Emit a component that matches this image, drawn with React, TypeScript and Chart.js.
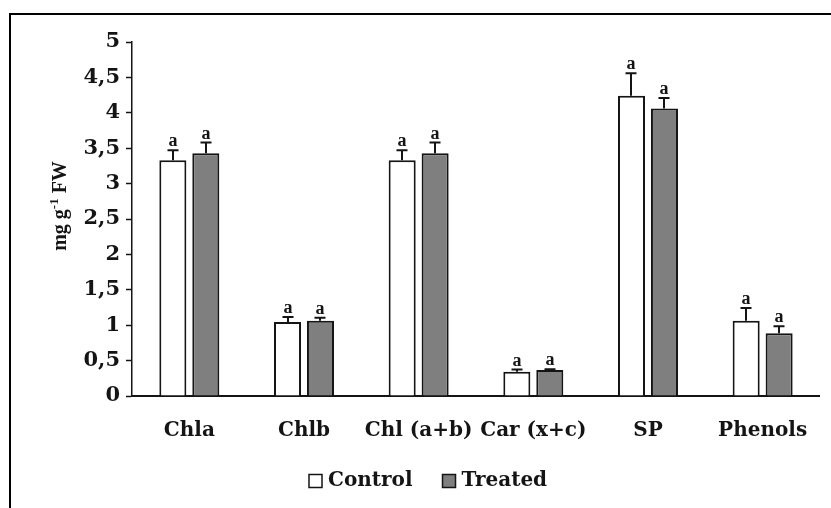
import React, { useEffect, useRef } from "react";
import { Chart, registerables } from "chart.js";

Chart.register(...registerables);

const categories = ["Chla", "Chlb", "Chl (a+b)", "Car (x+c)", "SP", "Phenols"];
const controlValues = [3.33, 1.045, 3.33, 0.343, 4.24, 1.064];
const controlErrors = [0.14, 0.07, 0.14, 0.03, 0.32, 0.18];
const treatedValues = [3.43, 1.064, 3.43, 0.367, 4.06, 0.886];
const treatedErrors = [0.15, 0.04, 0.15, 0.012, 0.15, 0.1];
const controlLetters = ["a", "a", "a", "a", "a", "a"];
const treatedLetters = ["a", "a", "a", "a", "a", "a"];
const yTickLabels = ["0", "0,5", "1", "1,5", "2", "2,5", "3", "3,5", "4", "4,5", "5"];
const seriesNames = ["Control", "Treated"];
const seriesFills = ["#ffffff", "#7f7f7f"];

const INK = "#141414";
const SERIF_BOLD = "bold 20px 'DejaVu Serif'";

const decorPlugin = {
  id: "decor",
  beforeDraw(chart: any) {
    const ctx = chart.ctx;
    ctx.save();
    ctx.fillStyle = "#ffffff";
    ctx.fillRect(0, 0, chart.width, chart.height);
    ctx.strokeStyle = "#000";
    ctx.lineWidth = 2;
    ctx.beginPath();
    ctx.moveTo(10, chart.height);
    ctx.lineTo(10, 14);
    ctx.lineTo(chart.width, 14);
    ctx.stroke();
    ctx.restore();
  },
  afterDatasetsDraw(chart: any) {
    const ctx = chart.ctx;
    const yScale = chart.scales.y;
    const errs = [controlErrors, treatedErrors];
    const letters = [controlLetters, treatedLetters];
    ctx.save();
    ctx.strokeStyle = INK;
    ctx.fillStyle = INK;
    ctx.lineWidth = 2;
    chart.data.datasets.forEach((ds: any, i: number) => {
      const meta = chart.getDatasetMeta(i);
      meta.data.forEach((el: any, j: number) => {
        const v = ds.data[j];
        const top = yScale.getPixelForValue(v + errs[i][j]);
        const x = Math.round(el.x);
        ctx.beginPath();
        ctx.moveTo(x, el.y);
        ctx.lineTo(x, top);
        ctx.moveTo(x - 5.5, top);
        ctx.lineTo(x + 5.5, top);
        ctx.stroke();
        ctx.font = "bold 18px 'Liberation Serif'";
        ctx.textAlign = "center";
        ctx.textBaseline = "alphabetic";
        ctx.fillText(letters[i][j], x, top - 4);
      });
    });
    ctx.restore();
  },
  afterDraw(chart: any) {
    const ctx = chart.ctx;
    ctx.save();
    // y axis title with superscript
    const big = "bold 20px 'Liberation Serif'";
    const small = "bold 13px 'Liberation Serif'";
    const parts = [
      { t: "mg g", f: big, dy: 0 },
      { t: "-1", f: small, dy: -8 },
      { t: " FW", f: big, dy: 0 },
    ];
    let total = 0;
    parts.forEach((p) => {
      ctx.font = p.f;
      total += ctx.measureText(p.t).width;
    });
    const cy = 206;
    const cx = 66;
    ctx.translate(cx, cy);
    ctx.rotate(-Math.PI / 2);
    ctx.fillStyle = INK;
    ctx.textBaseline = "alphabetic";
    ctx.textAlign = "left";
    let x = -total / 2;
    parts.forEach((p) => {
      ctx.font = p.f;
      ctx.fillText(p.t, x, p.dy);
      x += ctx.measureText(p.t).width;
    });
    ctx.restore();

    // legend
    ctx.save();
    ctx.font = SERIF_BOLD;
    ctx.textBaseline = "middle";
    ctx.textAlign = "left";
    let lx = 309;
    const ly = 481;
    chart.data.datasets.forEach((ds: any) => {
      ctx.fillStyle = ds.backgroundColor;
      ctx.fillRect(lx, ly - 6.5, 13, 13);
      ctx.strokeStyle = INK;
      ctx.lineWidth = 1.5;
      ctx.strokeRect(lx, ly - 6.5, 13, 13);
      ctx.fillStyle = INK;
      ctx.fillText(ds.label, lx + 19, ly);
      lx += 19 + ctx.measureText(ds.label).width + 30;
    });
    ctx.restore();
  },
};

export default function App() {
  const ref = useRef<HTMLCanvasElement | null>(null);
  useEffect(() => {
    if (!ref.current) return;
    const chart = new Chart(ref.current, {
      type: "bar",
      data: {
        labels: categories,
        datasets: [
          {
            label: seriesNames[0],
            data: controlValues,
            backgroundColor: seriesFills[0],
            borderColor: INK,
            borderWidth: 2,
            categoryPercentage: 0.575,
            barPercentage: 0.82,
          },
          {
            label: seriesNames[1],
            data: treatedValues,
            backgroundColor: seriesFills[1],
            borderColor: INK,
            borderWidth: 2,
            categoryPercentage: 0.575,
            barPercentage: 0.82,
          },
        ],
      },
      options: {
        responsive: false,
        animation: false,
        layout: { padding: { top: 42, right: 10, left: 0, bottom: 60 } },
        plugins: {
          legend: { display: false },
          tooltip: { enabled: false },
        },
        scales: {
          x: {
            grid: { display: false, drawTicks: false },
            border: { display: true, color: INK, width: 2 },
            ticks: {
              color: INK,
              font: { family: "'DejaVu Serif'", size: 20, weight: "bold" },
              padding: 23,
              maxRotation: 0,
              autoSkip: false,
            },
            afterFit: (s: any) => {
              s.height = 52;
            },
          },
          y: {
            min: 0,
            max: 5,
            grid: {
              drawOnChartArea: false,
              drawTicks: true,
              tickLength: 6,
              tickColor: INK,
              tickWidth: 1.5,
            },
            border: { display: true, color: INK, width: 1.5 },
            ticks: {
              stepSize: 0.5,
              color: INK,
              padding: 6,
              font: { family: "'DejaVu Serif'", size: 21, weight: "bold" },
              callback: (_v: any, i: number) => yTickLabels[i],
            },
            afterFit: (s: any) => {
              s.width = 132;
            },
          },
        },
      },
      plugins: [decorPlugin],
    });
    return () => chart.destroy();
  }, []);
  return (
    <div style={{ position: "fixed", left: 0, top: 0, width: 831, height: 508, background: "#fff" }}>
      <canvas ref={ref} width={831} height={508} style={{ display: "block" }} />
    </div>
  );
}
